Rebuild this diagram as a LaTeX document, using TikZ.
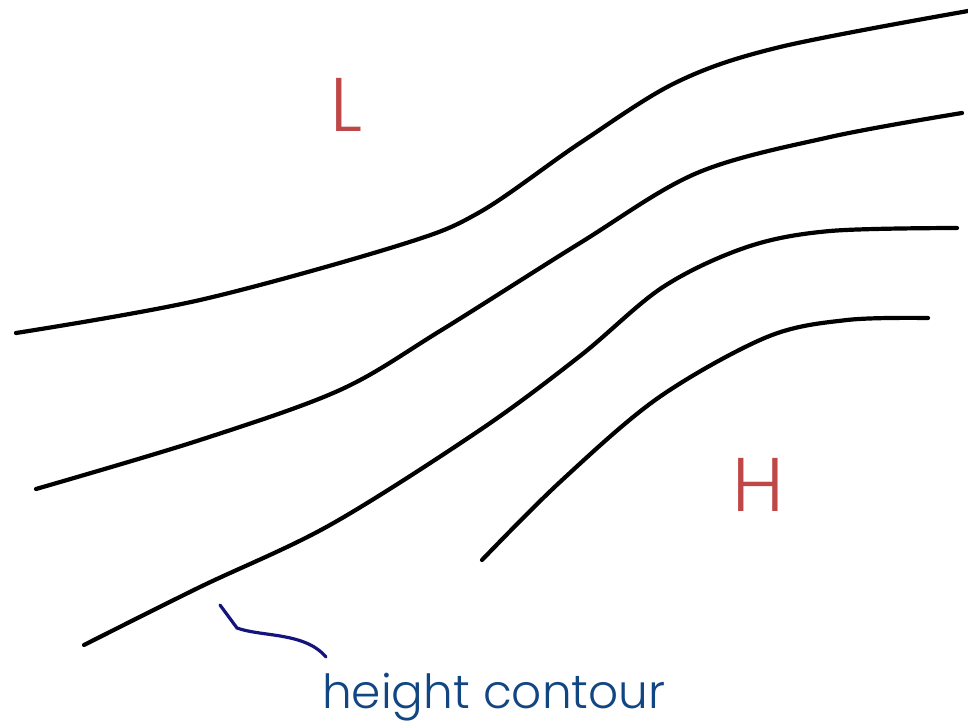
\documentclass[tikz,border=0pt]{standalone}
\usepackage{fontspec}
\setmainfont{Poppins Light}
\usepackage{xcolor}
\usetikzlibrary{positioning}
\definecolor{lowhigh}{RGB}{190,72,72}
\definecolor{labelblue}{RGB}{18,70,130}
\definecolor{pointerblue}{RGB}{20,20,125}

\begin{document}
\begin{tikzpicture}[
  x=1pt, y=-1pt,
  contour/.style={line width=4.2pt, line cap=round, black},
  letter/.style={font=\fontsize{76}{76}\selectfont, text=lowhigh, inner sep=0pt},
  lbl/.style={font=\fontsize{47}{47}\selectfont, text=labelblue, inner sep=0pt, anchor=base west},
  pointer/.style={line width=3.2pt, pointerblue, line cap=round}
]
  \useasboundingbox (0,0) rectangle (968,723);

  % Height contours
  \draw[contour] plot[smooth, tension=0.55] coordinates {(16,333) (200,300) (400,245) (480,212) (580,143) (677,82) (780,47) (968,11)};
  \draw[contour] plot[smooth, tension=0.55] coordinates {(36,489) (200,440) (340,390) (440,331) (580,243) (697,173) (830,137) (962,113)};
  \draw[contour] plot[smooth, tension=0.55] coordinates {(84,645) (200,587) (330,525) (480,430) (580,356) (663,287) (747,247) (830,231) (957,228)};
  \draw[contour] plot[smooth, tension=0.55] coordinates {(482,560) (560,482) (658,398) (767,337) (847,320) (928,318)};

  % Low and high
  \node[letter] (low) at (346,105) {L};
  \node[letter] (high) at (758,485) {H};

  % Label
  \node[lbl] (label) at (322,708) {height contour};
  \coordinate (tip) at (220,605);
  \draw[pointer] (tip) -- (237,628) .. controls (262,637) and (305,632) .. (326,657);
\end{tikzpicture}
\end{document}
